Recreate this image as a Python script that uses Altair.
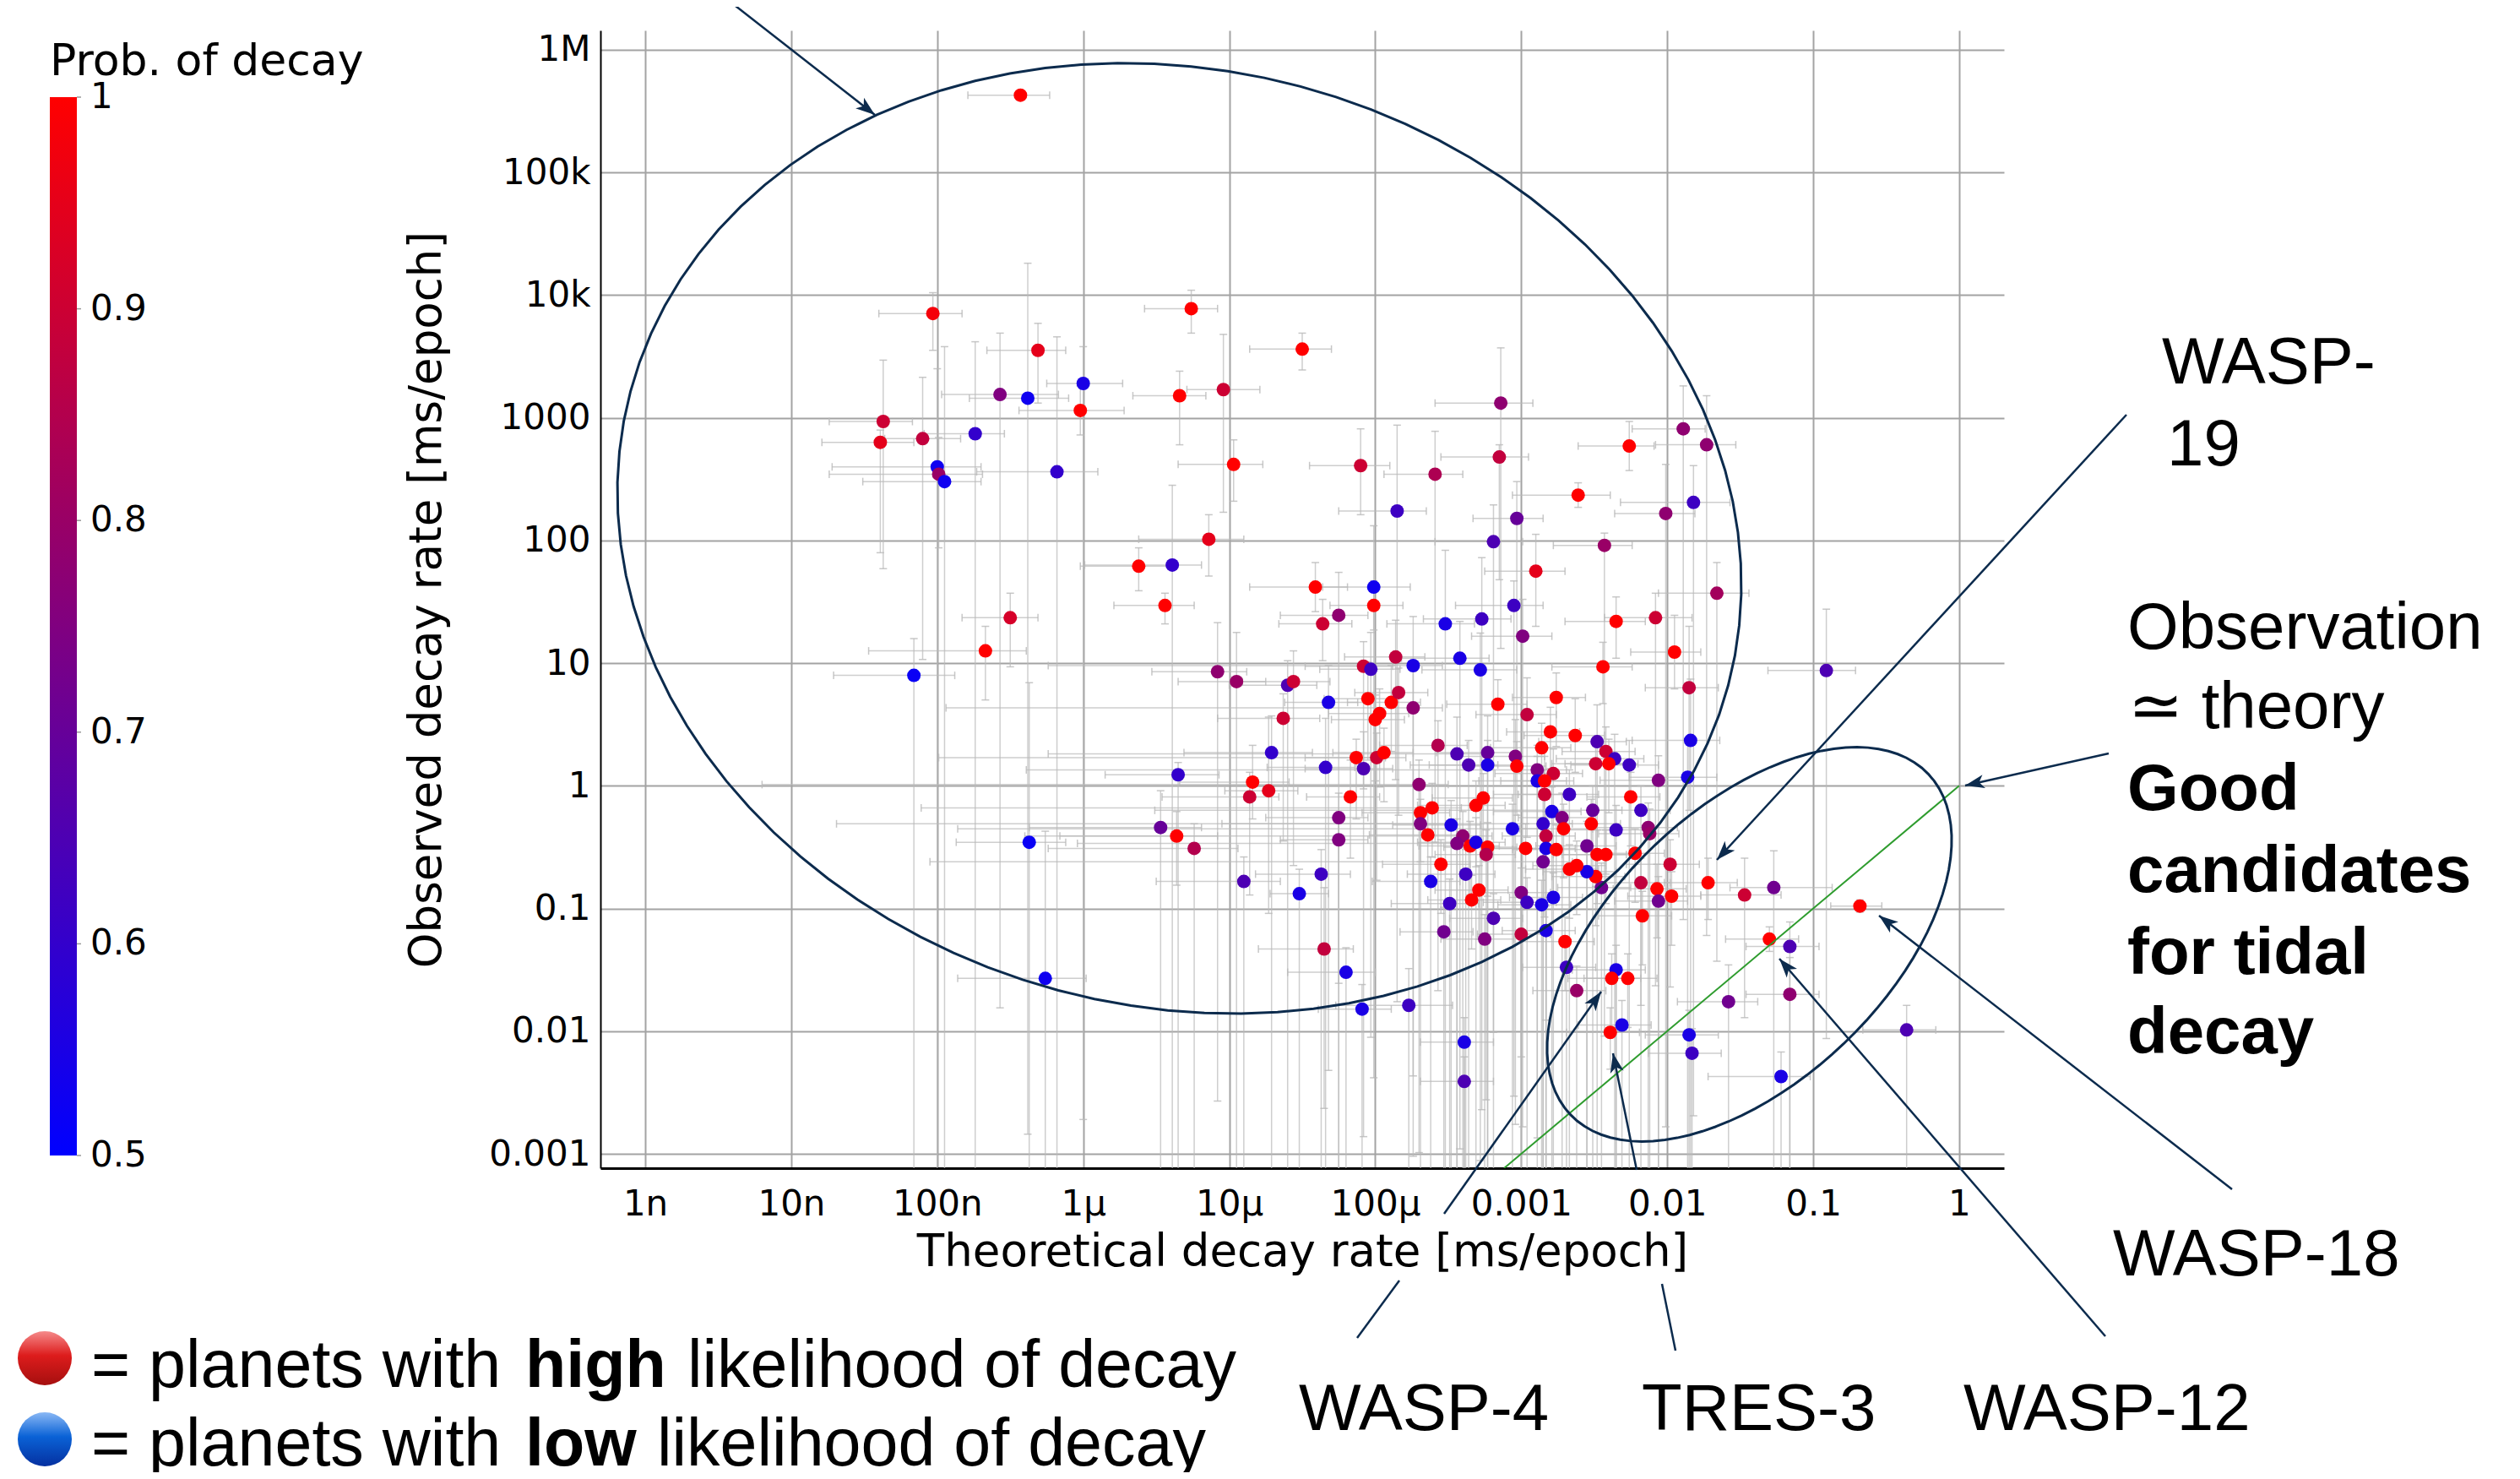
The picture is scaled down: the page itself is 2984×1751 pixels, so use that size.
import json
import math
import altair as alt
import pandas as pd

# ---------------- data (log10 of ms/epoch) ----------------
theo_log10 = [
    -6.43, -7.03, -6.31, -5.26, -4.50, -6.00, -6.57, -6.38, -6.02, -5.34,
    -5.04, -7.37, -7.39, -7.10, -6.74, -7.00, -6.99, -6.95, -6.18, -4.97,
    -4.10, -5.14, -5.62, -5.39, -4.41, -4.01, -5.44, -4.01, -4.25, -4.36,
    -6.50, -3.85, -3.14, -1.89, -2.26, -1.73, -3.15, -3.59, -2.61, -3.03,
    -1.82, -2.01, -3.19, -2.43, -2.90, -3.05, -3.27, -3.52, -2.99, -2.35,
    -2.08, -1.66, -6.67, -7.16, -5.08, -4.95, -4.60, -4.56, -4.32, -4.05,
    -3.97, -4.00, -4.63, -4.08, -4.03, -4.71, -4.34, -4.13, -3.99, -3.94,
    -4.08, -5.35, -4.84, -4.73, -4.86, -4.17, -4.25, -4.25, -5.47, -5.36,
    -5.24, -6.37, -4.90, -4.37, -4.52, -4.35, -4.20, -4.09, -6.26, -1.95,
    -3.86, -3.74, -3.42, -3.28, -2.44, -1.85, -3.89, -3.84, -3.74, -3.16,
    -2.96, -2.76, -2.80, -2.63, -2.86, -3.57, -3.44, -3.36, -3.23, -3.23,
    -3.04, -3.03, -2.89, -2.78, -2.89, -2.84, -2.48, -2.42, -2.36, -2.49,
    -2.40, -2.26, -2.06, -1.86, -1.84, -3.70, -3.61, -3.69, -3.69, -3.64,
    -3.48, -3.40, -3.44, -3.35, -3.31, -3.31, -3.26, -3.23, -3.24, -3.06,
    -2.97, -2.84, -2.79, -2.85, -2.83, -2.83, -2.85, -2.72, -2.71, -2.76,
    -2.67, -2.51, -2.52, -2.25, -2.18, -2.35, -2.13, -2.12, -2.55, -2.48,
    -2.42, -2.22, -1.98, -1.72, -1.47, -1.27, -0.68, -0.91, -3.77, -3.62,
    -3.55, -3.38, -3.29, -3.34, -3.49, -3.19, -3.53, -3.25, -3.00, -3.00,
    -2.96, -2.86, -2.78, -2.83, -2.70, -2.45, -2.49, -2.55, -2.62, -2.67,
    -2.18, -2.07, -2.06, -1.97, -2.17, -2.69, -2.35, -2.38, -2.27, -2.62,
    -1.30, -1.16, -1.16, -1.58, -2.31, -2.39, -1.85, -1.83, -1.22, -0.36,
    -3.39, -3.39,
]
obs_log10 = [
    5.63, 3.85, 3.55, 3.89, 3.56, 3.28, 3.19, 3.16, 3.06, 3.18,
    3.23, 2.97, 2.80, 2.83, 2.87, 2.60, 2.54, 2.48, 2.56, 2.62,
    2.61, 2.01, 1.79, 1.80, 1.62, 1.62, 1.47, 1.47, 1.39, 1.32,
    1.37, 2.24, 3.12, 2.91, 2.77, 2.78, 2.68, 2.54, 2.37, 2.18,
    2.31, 2.22, 1.99, 1.96, 1.75, 1.47, 1.36, 1.32, 1.22, 1.34,
    1.37, 1.57, 1.10, 0.90, 0.93, 0.85, 0.82, 0.85, 0.68, 0.71,
    0.59, 0.54, 0.55, 0.975, 0.95, 0.27, 0.15, 0.23, 0.23, 0.27,
    0.14, 0.09, 0.03, -0.04, -0.09, -0.09, -0.26, -0.44, -0.34, -0.41,
    -0.51, -0.46, -0.78, -0.72, -0.88, -1.33, -1.52, -1.82, -1.57, 1.09,
    1.05, 0.98, 1.04, 0.945, 0.97, 0.80, 0.68, 0.76, 0.635, 0.665,
    0.58, 0.72, 0.44, 0.41, 0.31, 0.33, 0.26, 0.17, 0.27, 0.17,
    0.24, 0.16, 0.13, 0.10, 0.04, 0.04, 0.36, 0.28, 0.22, 0.18,
    0.18, 0.17, 0.045, 0.07, 0.37, 0.01, -0.18, -0.22, -0.31, -0.40,
    -0.32, -0.41, -0.47, -0.49, -0.46, -0.16, -0.10, -0.50, -0.56, -0.35,
    -0.51, -0.07, -0.21, -0.31, -0.41, -0.51, -0.62, -0.26, -0.35, -0.52,
    -0.07, -0.20, -0.31, -0.09, -0.20, -0.36, -0.34, -0.39, -0.49, -0.56,
    -0.56, -0.55, -0.64, -0.79, -0.89, -0.83, -0.98, 0.94, -1.79, -0.78,
    -0.64, -0.72, -0.85, -0.93, -0.96, -1.08, -1.19, -1.25, -1.21, -0.87,
    -0.95, -0.97, -0.91, -1.18, -1.27, -0.83, -0.74, -0.70, -0.65, -0.68,
    -0.79, -0.84, -0.94, -0.90, -1.06, -1.48, -1.50, -1.57, -1.57, -1.67,
    -1.25, -1.31, -1.70, -1.76, -1.95, -2.01, -2.03, -2.18, -2.37, -1.99,
    -2.09, -2.41,
]
prob_decay = [
    1.0, 0.98, 0.95, 1.0, 1.0, 0.55, 0.75, 0.53, 1.0, 1.0,
    0.9, 0.9, 0.95, 0.88, 0.6, 0.53, 0.8, 0.53, 0.6, 1.0,
    0.9, 0.95, 1.0, 0.6, 1.0, 0.53, 1.0, 1.0, 0.78, 0.9,
    0.92, 0.62, 0.78, 0.78, 1.0, 0.78, 0.88, 0.84, 1.0, 0.7,
    0.62, 0.78, 0.65, 0.8, 0.95, 0.62, 0.62, 0.55, 0.75, 1.0,
    0.9, 0.82, 1.0, 0.52, 0.78, 0.8, 0.65, 0.9, 0.55, 1.0,
    1.0, 1.0, 0.9, 0.9, 0.62, 0.6, 0.6, 1.0, 0.9, 1.0,
    0.65, 0.6, 1.0, 0.95, 0.9, 1.0, 0.75, 0.75, 0.7, 1.0,
    0.85, 0.52, 0.65, 0.62, 0.55, 0.88, 0.55, 0.55, 0.53, 1.0,
    0.88, 0.55, 0.55, 0.55, 1.0, 0.88, 1.0, 0.88, 0.78, 1.0,
    0.88, 1.0, 1.0, 1.0, 1.0, 0.85, 0.65, 0.65, 0.7, 0.55,
    0.75, 1.0, 0.75, 0.9, 0.55, 1.0, 0.65, 0.9, 0.62, 0.9,
    1.0, 0.62, 0.75, 0.55, 0.55, 0.78, 1.0, 1.0, 0.75, 1.0,
    0.55, 0.78, 0.75, 1.0, 0.55, 1.0, 1.0, 1.0, 0.85, 0.55,
    1.0, 0.9, 0.55, 0.6, 0.88, 0.55, 0.72, 0.75, 1.0, 1.0,
    0.62, 0.7, 1.0, 1.0, 0.62, 0.62, 0.78, 0.8, 0.72, 1.0,
    1.0, 1.0, 0.9, 1.0, 0.9, 0.72, 1.0, 0.65, 0.62, 0.55,
    1.0, 0.62, 1.0, 1.0, 0.62, 0.65, 0.72, 0.75, 0.88, 0.75,
    0.62, 0.55, 0.55, 0.55, 1.0, 0.72, 1.0, 0.55, 1.0, 1.0,
    0.88, 1.0, 0.72, 1.0, 1.0, 0.62, 0.55, 1.0, 1.0, 0.8,
    1.0, 0.65, 0.78, 0.72, 0.55, 1.0, 0.55, 0.62, 0.55, 0.65,
    0.55, 0.65,
]
# error bars, in decades below / above each value
theo_err_lo = [
    0.36, 0.37, 0.35, 0.32, 0.36, 0.25, 0.40, 0.40, 0.42, 0.32,
    0.25, 0.37, 0.40, 0.26, 0.35, 0.72, 0.75, 0.56, 0.55, 0.38,
    0.35, 0.48, 0.40, 0.60, 0.45, 0.35, 0.35, 0.30, 0.40, 0.30,
    0.33, 0.40, 0.45, 0.35, 0.35, 0.35, 0.40, 0.35, 0.45, 0.30,
    0.50, 0.35, 0.40, 0.35, 0.35, 0.40, 0.40, 0.40, 0.35, 0.35,
    0.35, 0.40, 0.80, 0.55, 0.45, 0.40, 0.40, 0.35, 0.30, 0.30,
    0.35, 0.30, 0.45, 0.40, 0.35, 0.60, 0.40, 0.35, 3.00, 0.35,
    0.40, 0.50, 0.50, 0.30, 0.60, 0.30, 0.50, 0.40, 0.90, 0.80,
    1.00, 0.50, 0.60, 0.45, 0.20, 0.45, 0.40, 0.30, 0.60, 0.30,
    0.35, 2.50, 0.40, 0.40, 0.35, 0.30, 0.30, 0.30, 3.20, 0.35,
    0.35, 0.30, 0.30, 0.35, 0.35, 0.40, 2.80, 0.40, 0.35, 0.40,
    0.40, 0.30, 3.50, 0.40, 0.40, 0.30, 0.40, 0.30, 0.40, 0.30,
    0.30, 0.40, 0.40, 0.40, 0.40, 4.50, 3.50, 0.40, 4.00, 0.40,
    0.40, 3.00, 2.60, 0.35, 0.40, 0.40, 0.35, 0.30, 0.35, 3.80,
    0.30, 0.35, 0.40, 2.20, 0.30, 0.40, 4.20, 0.30, 0.30, 0.30,
    0.35, 3.00, 0.30, 0.30, 0.35, 0.35, 0.35, 0.35, 0.35, 0.30,
    0.30, 0.30, 0.30, 0.30, 0.30, 0.30, 0.20, 0.40, 0.50, 0.40,
    0.40, 0.40, 0.30, 0.30, 0.40, 0.30, 0.30, 0.30, 0.30, 0.30,
    0.30, 0.30, 0.30, 0.30, 0.30, 0.30, 0.30, 0.30, 0.30, 0.30,
    0.30, 0.30, 0.30, 0.30, 0.30, 0.30, 0.30, 0.30, 0.30, 0.30,
    0.30, 0.30, 0.30, 0.35, 0.30, 0.30, 0.30, 0.30, 0.50, 0.30,
    0.30, 0.30,
]
theo_err_hi = [
    0.20, 0.20, 0.19, 0.18, 0.20, 0.27, 0.40, 0.28, 0.30, 0.18,
    0.25, 0.20, 0.23, 0.26, 0.20, 0.30, 0.30, 0.25, 0.28, 0.20,
    0.20, 0.24, 0.25, 0.20, 0.22, 0.25, 0.20, 0.20, 0.20, 0.20,
    0.19, 0.20, 0.22, 0.15, 0.17, 0.20, 0.20, 0.19, 0.22, 0.18,
    0.25, 0.20, 0.20, 0.19, 0.20, 0.20, 0.20, 0.20, 0.20, 0.20,
    0.25, 0.22, 0.28, 0.28, 0.20, 0.20, 0.20, 0.25, 0.20, 0.20,
    0.20, 0.20, 0.25, 0.20, 0.20, 0.28, 0.20, 0.20, 0.20, 0.20,
    0.20, 0.28, 0.25, 0.20, 0.20, 0.20, 0.20, 0.20, 0.28, 0.28,
    0.30, 0.25, 0.25, 0.20, 0.20, 0.20, 0.20, 0.20, 0.28, 0.18,
    0.20, 0.20, 0.20, 0.25, 0.20, 0.20, 0.20, 0.20, 0.20, 0.20,
    0.20, 0.20, 0.20, 0.20, 0.20, 0.20, 0.20, 0.20, 0.20, 0.20,
    0.20, 0.20, 0.20, 0.20, 0.20, 0.20, 0.20, 0.20, 0.20, 0.20,
    0.20, 0.20, 0.20, 0.20, 0.20, 0.20, 0.20, 0.20, 0.20, 0.20,
    0.20, 0.20, 0.20, 0.20, 0.20, 0.20, 0.20, 0.20, 0.20, 0.20,
    0.20, 0.20, 0.20, 0.20, 0.20, 0.20, 0.20, 0.20, 0.20, 0.20,
    0.20, 0.20, 0.20, 0.20, 0.20, 0.20, 0.20, 0.20, 0.20, 0.20,
    0.20, 0.20, 0.20, 0.20, 0.25, 0.40, 0.15, 0.20, 0.30, 0.20,
    0.20, 0.20, 0.20, 0.20, 0.20, 0.20, 0.20, 0.20, 0.20, 0.20,
    0.20, 0.20, 0.20, 0.20, 0.20, 0.20, 0.20, 0.20, 0.20, 0.20,
    0.20, 0.20, 0.20, 0.20, 0.20, 0.20, 0.20, 0.20, 0.20, 0.20,
    0.20, 0.20, 0.20, 0.20, 0.20, 0.20, 0.20, 0.20, 0.20, 0.20,
    0.20, 0.20,
]
obs_err_lo = [
    0.02, 0.30, 0.43, 0.20, 0.17, 6.0, 5.0, 6.0, 0.20, 0.40,
    1.00, 1.20, 0.90, 1.80, 7.0, 6.0, 0.60, 6.0, 7.0, 0.30,
    0.40, 0.30, 0.20, 5.5, 0.20, 4.0, 0.15, 0.20, 3.0, 0.30,
    0.40, 4.0, 2.0, 4.0, 0.20, 4.0, 1.00, 3.0, 0.10, 2.0,
    5.0, 5.0, 4.0, 4.0, 0.45, 4.0, 4.0, 5.0, 4.0, 0.30,
    3.0, 3.0, 0.40, 6.0, 3.5, 5.0, 4.0, 1.5, 3.0, 0.50,
    0.60, 0.50, 1.00, 1.00, 3.0, 5.0, 4.0, 0.50, 1.00, 0.40,
    3.0, 5.0, 0.30, 1.00, 0.80, 0.50, 4.0, 4.0, 4.0, 0.40,
    4.0, 5.0, 4.0, 4.0, 4.0, 1.30, 4.0, 4.0, 4.0, 0.30,
    1.00, 4.0, 4.0, 4.0, 0.30, 1.00, 0.40, 1.00, 3.0, 0.30,
    1.00, 0.40, 0.30, 0.30, 0.40, 2.0, 4.0, 4.0, 4.0, 4.0,
    3.0, 0.40, 3.0, 1.00, 4.0, 0.40, 4.0, 1.00, 4.0, 1.00,
    0.40, 4.0, 4.0, 4.0, 4.0, 3.0, 0.40, 0.40, 3.0, 0.40,
    4.0, 3.0, 3.0, 0.40, 4.0, 0.50, 0.40, 0.40, 2.0, 4.0,
    0.40, 1.00, 4.0, 4.0, 1.50, 4.0, 3.0, 3.0, 0.40, 0.40,
    4.0, 3.0, 0.40, 0.40, 4.0, 4.0, 3.0, 3.0, 3.0, 0.40,
    0.40, 0.40, 1.00, 0.30, 1.00, 3.0, 0.05, 3.0, 3.0, 4.0,
    0.40, 4.0, 0.40, 0.40, 4.0, 4.0, 3.0, 3.0, 1.00, 3.0,
    4.0, 4.0, 4.0, 4.0, 0.40, 3.0, 0.40, 4.0, 0.40, 0.40,
    1.00, 0.40, 3.0, 0.40, 0.40, 3.0, 3.0, 0.40, 0.40, 2.0,
    0.10, 3.0, 3.0, 3.0, 3.0, 0.30, 3.0, 3.0, 3.0, 3.0,
    3.0, 3.0,
]
obs_err_hi = [
    0.02, 0.17, 0.22, 0.15, 0.13, 0.30, 0.50, 1.10, 0.20, 0.20,
    0.45, 0.50, 0.10, 0.50, 0.75, 0.80, 0.30, 1.10, 1.10, 0.20,
    0.30, 0.20, 0.15, 0.65, 0.20, 0.50, 0.10, 0.20, 0.35, 0.20,
    0.20, 0.70, 0.45, 0.35, 0.20, 0.40, 0.10, 0.35, 0.10, 0.30,
    0.30, 0.40, 0.30, 0.10, 0.30, 0.20, 0.50, 0.60, 0.30, 0.20,
    0.20, 0.25, 0.20, 0.30, 0.40, 0.40, 0.20, 0.25, 0.30, 0.30,
    0.20, 0.20, 0.20, 0.20, 0.30, 0.30, 0.40, 0.15, 0.20, 0.20,
    0.30, 0.10, 0.30, 0.60, 0.20, 0.30, 0.20, 0.20, 0.30, 0.20,
    0.20, 1.30, 0.20, 0.20, 0.20, 0.50, 0.20, 0.20, 1.20, 0.30,
    0.30, 0.40, 0.30, 0.30, 0.20, 0.50, 0.30, 0.20, 0.30, 0.20,
    0.30, 0.20, 0.20, 0.30, 0.20, 0.20, 0.30, 0.20, 0.30, 0.20,
    0.30, 0.20, 0.20, 0.20, 0.20, 0.20, 0.30, 0.20, 0.20, 0.20,
    0.20, 0.20, 0.20, 0.30, 0.50, 0.20, 0.20, 0.20, 0.20, 0.20,
    0.20, 0.20, 0.20, 0.20, 0.20, 0.20, 0.20, 0.20, 0.20, 0.20,
    0.20, 0.20, 0.20, 0.20, 0.20, 0.20, 0.20, 0.20, 0.20, 0.20,
    0.20, 0.20, 0.20, 0.20, 0.20, 0.20, 0.20, 0.20, 0.20, 0.20,
    0.20, 0.20, 0.20, 0.20, 0.30, 0.30, 0.05, 0.50, 0.30, 0.20,
    0.20, 0.20, 0.20, 0.20, 0.20, 0.20, 0.20, 0.20, 0.20, 0.20,
    0.20, 0.20, 0.20, 0.20, 0.20, 0.20, 0.20, 0.20, 0.20, 0.20,
    0.20, 0.20, 0.20, 0.20, 0.20, 0.20, 0.20, 0.20, 0.20, 0.20,
    0.10, 0.20, 0.30, 0.30, 0.20, 0.20, 0.20, 0.20, 0.20, 0.20,
    0.20, 0.20,
]
x_tick_labels = ["1n", "10n", "100n", "1µ", "10µ", "100µ", "0.001", "0.01", "0.1", "1"]
y_tick_labels = ["0.001", "0.01", "0.1", "1", "10", "100", "1000", "10k", "100k", "1M"]
prob_ticks = [0.5, 0.6, 0.7, 0.8, 0.9, 1.0]
prob_tick_labels = ["0.5", "0.6", "0.7", "0.8", "0.9", "1"]

n = len(theo_log10)
for arr in (obs_log10, prob_decay, theo_err_lo, theo_err_hi, obs_err_lo, obs_err_hi):
    assert len(arr) == n, len(arr)

df = pd.DataFrame({
    "theo": [10 ** v for v in theo_log10],
    "obs": [10 ** v for v in obs_log10],
    "prob": prob_decay,
    "theo_lo": [10 ** (v - e) for v, e in zip(theo_log10, theo_err_lo)],
    "theo_hi": [10 ** (v + e) for v, e in zip(theo_log10, theo_err_hi)],
    "obs_lo": [10 ** (v - e) for v, e in zip(obs_log10, obs_err_lo)],
    "obs_hi": [10 ** (v + e) for v, e in zip(obs_log10, obs_err_hi)],
})
caps_x = pd.DataFrame({
    "theo": list(df["theo_lo"]) + list(df["theo_hi"]),
    "obs": list(df["obs"]) * 2,
})
caps_y = pd.DataFrame({
    "theo": list(df["theo"]) * 2,
    "obs": list(df["obs_lo"]) + list(df["obs_hi"]),
})

# ---------------- layout ----------------
PLOT_LEFT, PLOT_TOP = 711, 36
W, H = 1662, 1347
X_DOM = [10 ** -9.307, 10 ** 0.307]
Y_DOM = [10 ** -3.117, 10 ** 6.158]
line_df = pd.DataFrame({"theo": [Y_DOM[0], 1.0], "obs": [Y_DOM[0], 1.0]})

# colour bar geometry (page pixels)
CB_LEFT, CB_TOP, CB_LEN, CB_THICK = 59, 115, 1253, 32

NAVY = "#0c2b4d"
AXFONT = "DejaVu Sans"
ANFONT = "Liberation Sans"

xscale = alt.Scale(type="log", domain=X_DOM, nice=False)
yscale = alt.Scale(type="log", domain=Y_DOM, nice=False)
xaxis = alt.Axis(
    title="Theoretical decay rate [ms/epoch]",
    values=[10.0 ** k for k in range(-9, 1)],
    labelExpr=json.dumps(x_tick_labels, ensure_ascii=False) + "[round(log(datum.value)/LN10)+9]",
    labelFont=AXFONT, labelFontSize=42, labelColor="black", labelPadding=22,
    labelOverlap=False, labelFlush=False,
    titleFont=AXFONT, titleFontSize=53, titleFontWeight="normal", titleColor="black", titlePadding=10,
    ticks=False, tickSize=0,
    grid=True, gridColor="#a3a3a3", gridWidth=2,
    domainColor="black", domainWidth=3,
)
yaxis = alt.Axis(
    title="Observed decay rate [ms/epoch]",
    values=[10.0 ** k for k in range(-3, 7)],
    labelExpr=json.dumps(y_tick_labels) + "[round(log(datum.value)/LN10)+3]",
    labelFont=AXFONT, labelFontSize=42, labelColor="black", labelPadding=12,
    labelOverlap=False, labelFlush=False,
    titleFont=AXFONT, titleFontSize=53, titleFontWeight="normal", titleColor="black", titlePadding=46,
    ticks=False, tickSize=0,
    grid=True, gridColor="#a3a3a3", gridWidth=2,
    domainColor="black", domainWidth=2,
)


def X(field):
    return alt.X(field, type="quantitative", scale=xscale, axis=xaxis)


def Y(field):
    return alt.Y(field, type="quantitative", scale=yscale, axis=yaxis)


ERR = "#b9b9b9"
err_h = alt.Chart(df).mark_rule(color=ERR, strokeWidth=1.5, opacity=0.7, clip=True).encode(
    x=X("theo_lo"), x2="theo_hi", y=Y("obs"))
err_v = alt.Chart(df).mark_rule(color=ERR, strokeWidth=1.5, opacity=0.7, clip=True).encode(
    x=X("theo"), y=Y("obs_lo"), y2="obs_hi")
cap_x = alt.Chart(caps_x).mark_tick(orient="vertical", size=9, thickness=1.5, color=ERR,
                                     opacity=0.8, clip=True).encode(x=X("theo"), y=Y("obs"))
cap_y = alt.Chart(caps_y).mark_tick(orient="horizontal", size=9, thickness=1.5, color=ERR,
                                     opacity=0.8, clip=True).encode(x=X("theo"), y=Y("obs"))

points = alt.Chart(df).mark_circle(size=256, opacity=1).encode(
    x=X("theo"), y=Y("obs"),
    color=alt.Color(
        "prob:Q",
        scale=alt.Scale(domain=[0.5, 1.0], range=["#0000ff", "#ff0000"], interpolate="rgb"),
        legend=alt.Legend(
            orient="none", legendX=CB_LEFT - PLOT_LEFT, legendY=12, direction="vertical",
            title="Prob. of decay", titleFont=AXFONT, titleFontSize=52, titleFontWeight="normal",
            titleColor="black", titlePadding=15, titleAnchor="start", titleLimit=1000,
            gradientLength=CB_LEN, gradientThickness=CB_THICK, gradientStrokeWidth=0,
            labelFont=AXFONT, labelFontSize=42, labelColor="black", labelOffset=16,
            labelExpr="''", values=prob_ticks,
        ),
    ),
)
green = alt.Chart(line_df).mark_line(color="#2e9c2e", strokeWidth=2, clip=True).encode(
    x=X("theo"), y=Y("obs"))

ONE = alt.Data(values=[{"k": 0}])


def px(x):
    return alt.value(x - PLOT_LEFT)


def py(y):
    return alt.value(y - PLOT_TOP)


def ellipse(cx, cy, a, b, angle_deg):
    r = b / a
    pts = []
    for i in range(96):
        t = 2 * math.pi * i / 96
        pts.append(f"{math.cos(t):.4f},{r * math.sin(t):.4f}")
    path = "M" + "L".join(pts) + "Z"
    return alt.Chart(ONE).mark_point(
        shape=path, size=(2 * a) ** 2, angle=angle_deg % 360, filled=False,
        color=NAVY, strokeWidth=3, opacity=1,
    ).encode(x=px(cx), y=py(cy))


HEAD = "M0,0L-0.62,1.75L0,1.3L0.62,1.75Z"


def seg(x0, y0, x1, y1, color=NAVY, width=2.5):
    return alt.Chart(ONE).mark_rule(color=color, strokeWidth=width).encode(
        x=px(x0), y=py(y0), x2=px(x1), y2=py(y1))


def head(x0, y0, x1, y1):
    ang = math.degrees(math.atan2(x1 - x0, -(y1 - y0))) % 360
    return alt.Chart(ONE).mark_point(
        shape=HEAD, size=676, angle=ang, filled=True, color=NAVY, opacity=1, strokeWidth=0,
    ).encode(x=px(x1), y=py(y1))


def label(txt, x, y, bold=False, size=78, font=ANFONT, baseline="alphabetic"):
    return alt.Chart(ONE).mark_text(
        text=txt, align="left", baseline=baseline, font=font, fontSize=size,
        fontWeight="bold" if bold else "normal", color="black",
    ).encode(x=px(x), y=py(y))


def ball(x, y, c0, c1, c2):
    grad = alt.Gradient(
        gradient="linear", x1=0, y1=0, x2=0, y2=1,
        stops=[alt.GradientStop(color=c0, offset=0), alt.GradientStop(color=c1, offset=0.45),
               alt.GradientStop(color=c2, offset=1)],
    )
    return alt.Chart(ONE).mark_point(shape="circle", size=4096, filled=True, fill=grad,
                                     opacity=1, strokeWidth=0).encode(x=px(x), y=py(y))


# arrows: (start, tip) in page pixels
arrows = [
    ((862, 0), (1036, 136)),
    ((2518, 491), (2033, 1018)),
    ((2497, 892), (2327, 930)),
    ((2643, 1408), (2225, 1084)),
    ((2493, 1582), (2107, 1135)),
]
layers = [err_h, err_v, cap_x, cap_y, points, green,
          ellipse(1396.5, 637.4, 672.8, 553.9, 15),
          ellipse(2071.5, 1118.0, 292.5, 162.2, -43.6)]
for (x0, y0), (x1, y1) in arrows:
    layers += [seg(x0, y0, x1, y1), head(x0, y0, x1, y1)]
# TRES-3 and WASP-4 arrows are interrupted by the x-axis text
layers += [seg(1984, 1599, 1968, 1520), seg(1938, 1385, 1910, 1247), head(1984, 1599, 1910, 1247)]
layers += [seg(1607, 1584, 1657, 1516), seg(1710, 1437, 1896, 1174), head(1607, 1584, 1896, 1174)]

# colour-bar tick labels, centred on their level of the bar
for v, t in zip(prob_ticks, prob_tick_labels):
    ty = CB_TOP + (1.0 - v) / 0.5 * CB_LEN
    layers.append(label(t, CB_LEFT + CB_THICK + 16, ty, size=42, font=AXFONT, baseline="middle"))
    layers.append(seg(CB_LEFT + CB_THICK, ty, CB_LEFT + CB_THICK + 5, ty, color="#9a9a9a", width=1.5))

layers += [
    label("WASP-", 2560, 454), label("19", 2566, 551),
    label("Observation", 2519, 768), label("≃ theory", 2520, 862),
    label("Good", 2519, 959, True), label("candidates", 2519, 1056, True),
    label("for tidal", 2519, 1153, True), label("decay", 2519, 1247, True),
    label("WASP-18", 2502, 1510),
    label("WASP-4", 1538, 1693), label("TRES-3", 1944, 1693), label("WASP-12", 2325, 1693),
    ball(53, 1608, "#f58a8a", "#dd1c1c", "#a50f0f"),
    ball(53, 1704, "#8ab8f5", "#0a62d6", "#0530a0"),
    label("= planets with", 108, 1642, size=79), label("high", 622, 1642, True, 79),
    label("likelihood of decay", 814, 1642, size=79),
    label("= planets with", 108, 1735, size=79), label("low", 622, 1735, True, 79),
    label("likelihood of decay", 778, 1735, size=79),
]

chart = alt.layer(*layers).properties(
    width=W, height=H,
    autosize=alt.AutoSizeParams(type="none"),
    padding={"left": PLOT_LEFT - 8, "top": PLOT_TOP - 8, "right": 600, "bottom": 360},
    background="white",
).configure_view(strokeWidth=0)

chart.save("out.html", embed_options={"renderer": "svg", "actions": False})
